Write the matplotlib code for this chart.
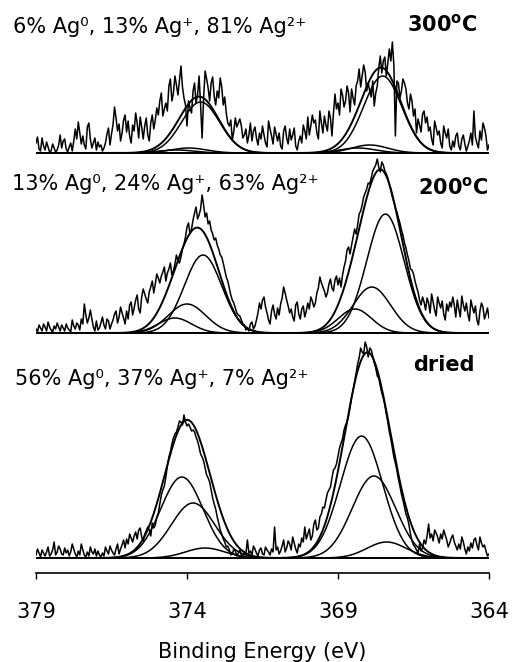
import numpy as np
import matplotlib
matplotlib.use('Agg')
import matplotlib.pyplot as plt

# ------------------------
# data
# ------------------------

# binding energy grid (eV), 0.05 eV steps from 379 down to 364
energy = np.linspace(379.0, 364.0, 301)

# measured Ag 3d intensities (a.u.) above each spectrum's background
# one row per eV, 379 -> 364
counts_300 = [10, 16, 4, 2, 15, 7, 3, 11, 6, 1, 2, 9, 5, 1, 3, 8, 18, 5, 12, 14, 4,
              1, 6, 10, 2, 12, 24, 14, 31, 20, 9, 17, 8, 4, 26, 30, 14, 5, 10, 15, 3,
              11, 6, 8, 2, 5, 10, 19, 25, 8, 19, 28, 46, 35, 22, 29, 12, 20, 33, 38, 21,
              32, 17, 10, 28, 22, 40, 30, 15, 36, 26, 14, 27, 35, 18, 12, 30, 38, 24, 33, 45,
              38, 52, 60, 37, 44, 50, 42, 67, 74, 52, 60, 77, 68, 58, 72, 87, 66, 55, 48, 27,
              52, 45, 40, 62, 70, 50, 58, 77, 48, 15, 55, 82, 74, 65, 52, 70, 76, 57, 48, 62,
              55, 75, 66, 48, 56, 40, 30, 27, 33, 13, 22, 35, 26, 30, 34, 27, 15, 18, 24, 10,
              18, 30, 12, 22, 26, 15, 8, 20, 14, 27, 18, 10, 6, 32, 24, 17, 9, 26, 19, 12,
              20, 7, 4, 22, 27, 15, 9, 24, 13, 18, 25, 7, 3, 12, 17, 10, 28, 22, 14, 36,
              18, 27, 38, 30, 33, 20, 14, 42, 30, 20, 37, 28, 22, 42, 35, 17, 40, 59, 44, 50,
              38, 64, 58, 46, 52, 67, 60, 41, 64, 55, 48, 67, 72, 84, 66, 77, 88, 81, 62, 70,
              62, 56, 72, 47, 60, 67, 85, 97, 80, 92, 96, 77, 90, 104, 92, 111, 88, 17, 72, 70,
              55, 62, 74, 70, 64, 50, 44, 59, 52, 37, 44, 20, 34, 28, 21, 39, 42, 30, 36, 22,
              26, 14, 8, 32, 25, 18, 22, 10, 5, 27, 20, 15, 24, 7, 3, 12, 6, 17, 20, 7,
              3, 14, 18, 9, 2, 7, 12, 20, 8, 42, 16, 10, 5, 22, 13, 30, 25, 17, 3, 8]

counts_200 = [4, 1, 8, 5, 2, 9, 6, 2, 11, 6, 3, 1, 7, 4, 10, 6, 2, 8, 5, 2, 9,
              5, 3, 1, 13, 7, 4, 10, 8, 3, 14, 9, 29, 18, 10, 15, 23, 14, 6, 2, 12,
              3, 5, 10, 16, 8, 4, 14, 12, 4, 9, 13, 19, 22, 10, 16, 26, 20, 15, 9, 22,
              14, 28, 31, 18, 25, 33, 38, 24, 20, 36, 44, 39, 34, 30, 41, 46, 52, 40, 49, 59,
              55, 50, 57, 61, 66, 52, 60, 64, 70, 58, 62, 69, 78, 72, 70, 76, 84, 89, 96, 106,
              110, 99, 104, 113, 120, 126, 114, 118, 124, 138, 128, 116, 120, 109, 112, 103, 99, 93, 95, 88,
              84, 78, 76, 70, 63, 56, 52, 45, 38, 33, 30, 25, 20, 18, 17, 13, 9, 8, 3, 5,
              2, 9, 11, 4, 7, 13, 20, 30, 24, 33, 36, 26, 20, 13, 9, 22, 28, 19, 14, 25,
              18, 29, 35, 46, 40, 33, 27, 20, 24, 16, 12, 28, 31, 19, 14, 24, 27, 16, 22, 30,
              24, 36, 32, 26, 30, 40, 45, 56, 50, 46, 42, 36, 40, 49, 54, 45, 42, 53, 57, 48,
              55, 46, 58, 66, 72, 83, 86, 79, 88, 96, 104, 99, 108, 119, 122, 128, 136, 140, 144, 150,
              149, 155, 162, 165, 168, 174, 166, 161, 171, 168, 162, 159, 155, 148, 143, 136, 131, 125, 121, 115,
              110, 103, 98, 90, 85, 78, 72, 64, 63, 59, 52, 46, 41, 33, 28, 36, 31, 23, 35, 30,
              20, 39, 31, 23, 17, 36, 30, 25, 32, 19, 13, 29, 22, 31, 26, 36, 28, 16, 33, 24,
              16, 37, 28, 22, 30, 19, 12, 33, 26, 20, 27, 13, 8, 22, 30, 26, 14, 19, 25, 15]

counts_dried = [3, 9, 5, 1, 8, 5, 2, 6, 11, 2, 4, 8, 16, 3, 6, 12, 9, 4, 3, 10, 5,
                8, 2, 6, 14, 9, 4, 1, 7, 3, 14, 8, 3, 1, 6, 2, 11, 6, 4, 9, 2,
                7, 3, 1, 5, 2, 11, 7, 4, 12, 8, 5, 3, 9, 14, 4, 9, 13, 18, 10, 19,
                14, 24, 20, 16, 22, 26, 19, 28, 30, 21, 17, 24, 27, 31, 28, 22, 35, 30, 33, 41,
                45, 54, 63, 68, 72, 81, 92, 101, 106, 114, 120, 124, 126, 131, 137, 136, 133, 143, 136, 132,
                134, 131, 127, 128, 126, 121, 117, 111, 104, 101, 97, 90, 83, 80, 76, 68, 60, 54, 49, 41,
                35, 28, 24, 19, 16, 11, 12, 8, 3, 4, 9, 7, 2, 5, 8, 3, 1, 6, 4, 18,
                5, 7, 3, 12, 9, 5, 2, 8, 10, 4, 3, 11, 8, 6, 3, 9, 6, 31, 8, 11,
                4, 7, 12, 18, 6, 10, 17, 14, 8, 21, 15, 9, 5, 14, 11, 20, 16, 31, 19, 24,
                29, 18, 22, 34, 38, 28, 30, 41, 44, 51, 50, 58, 65, 68, 71, 80, 88, 90, 94, 102,
                110, 115, 119, 128, 133, 136, 142, 151, 160, 168, 176, 185, 194, 200, 210, 206, 204, 216, 211, 201,
                210, 208, 202, 195, 190, 182, 180, 172, 165, 160, 153, 144, 136, 126, 119, 110, 101, 95, 88, 79,
                72, 64, 58, 51, 44, 40, 33, 24, 17, 13, 11, 8, 5, 14, 7, 10, 18, 14, 22, 34,
                20, 24, 17, 28, 25, 21, 15, 24, 19, 28, 23, 18, 11, 15, 20, 23, 16, 12, 8, 14,
                9, 21, 16, 9, 4, 11, 7, 15, 10, 18, 20, 13, 8, 21, 15, 11, 13, 7, 2, 4]

# fitted components (Ag0, Ag+, Ag2+) for 3d5/2 then 3d3/2
# centre (eV), height (a.u.), gaussian sigma (eV)
fit_300_centre = [368.35, 367.95, 367.52, 374.35, 373.95, 373.55]
fit_300_height = [5, 8, 77, 3, 5, 51]
fit_300_sigma = [0.6, 0.6, 0.63, 0.6, 0.6, 0.63]

fit_200_centre = [368.44, 367.88, 367.43, 374.40, 374.00, 373.47]
fit_200_height = [24, 46, 119, 15, 29, 78]
fit_200_sigma = [0.55, 0.62, 0.62, 0.55, 0.62, 0.62]

fit_dried_centre = [368.22, 367.81, 367.39, 374.17, 373.80, 373.40]
fit_dried_height = [122, 82, 16, 81, 55, 10]
fit_dried_sigma = [0.70, 0.72, 0.65, 0.70, 0.72, 0.65]

compositions = ['6% Ag\u2070, 13% Ag\u207a, 81% Ag\u00b2\u207a',
                '13% Ag\u2070, 24% Ag\u207a, 63% Ag\u00b2\u207a',
                '56% Ag\u2070, 37% Ag\u207a, 7% Ag\u00b2\u207a']
conditions = [r'300$^{\mathbf{o}}$C', r'200$^{\mathbf{o}}$C', 'dried']

xticks = [379, 374, 369, 364]

# ------------------------

W, H = 513, 662
plt.rcParams['font.family'] = 'DejaVu Sans'

fig = plt.figure(figsize=(W / 100, H / 100), dpi=100)
ax = fig.add_axes([36 / W, 89 / H, 453 / W, 573 / H])

spectra = [
    (counts_300, fit_300_centre, fit_300_height, fit_300_sigma),
    (counts_200, fit_200_centre, fit_200_height, fit_200_sigma),
    (counts_dried, fit_dried_centre, fit_dried_height, fit_dried_sigma),
]
offsets = [420, 240, 15]

for (counts, centres, heights, sigmas), off in zip(spectra, offsets):
    ax.plot(energy, np.array(counts) + off, color='black', lw=1.1)
    total = np.zeros_like(energy)
    for c, h, s in zip(centres, heights, sigmas):
        comp = h * np.exp(-(energy - c) ** 2 / (2 * s ** 2))
        total += comp
        ax.plot(energy, comp + off, color='black', lw=1.1)
    ax.plot(energy, total + off, color='black', lw=1.4)

ax.set_xlim(379, 364)
ax.set_ylim(0, 573)
ax.set_xticks(xticks)
ax.set_xticklabels([str(t) for t in xticks])
ax.set_yticks([])
for side in ['top', 'left', 'right']:
    ax.spines[side].set_visible(False)
ax.spines['bottom'].set_linewidth(1.2)
ax.tick_params(axis='x', direction='out', length=4, width=1.0, pad=17, labelsize=15)
ax.set_xlabel('Binding Energy (eV)', fontsize=15, labelpad=14)
ax.patch.set_alpha(0)

# composition labels (left) and treatment labels (right), pixel positions
comp_pos = [(13, 33), (12, 190), (15, 385)]
cond_pos = [(477, 31), (488, 194), (475, 371)]
for txt, (x, y) in zip(compositions, comp_pos):
    fig.text(x / W, 1 - y / H, txt, ha='left', va='baseline', fontsize=15)
for txt, (x, y) in zip(conditions, cond_pos):
    fig.text(x / W, 1 - y / H, txt, ha='right', va='baseline', fontsize=15, fontweight='bold')

fig.savefig('out.png', dpi=100)
